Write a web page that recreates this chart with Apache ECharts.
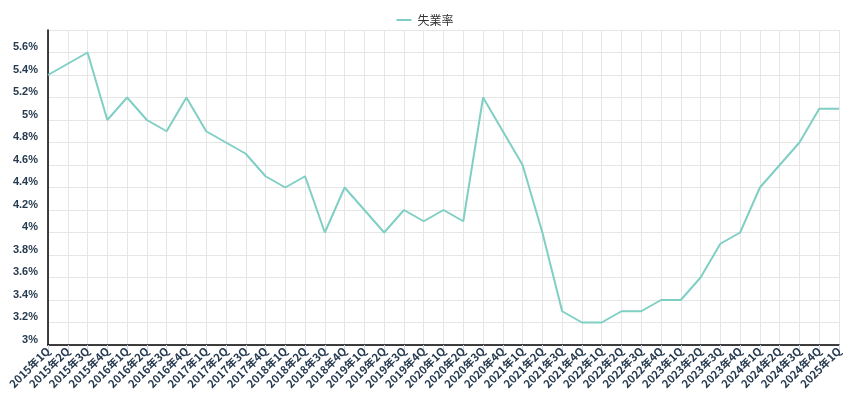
<!DOCTYPE html>
<html><head><meta charset="utf-8">
<script src="https://cdn.jsdelivr.net/npm/echarts@6/dist/echarts.min.js"></script>
<style>html,body{margin:0;padding:0;background:#fff}#c{width:850px;height:400px}</style>
</head><body><div id="c"></div>
<script>
const categories = ["2015年1Q","2015年2Q","2015年3Q","2015年4Q","2016年1Q","2016年2Q","2016年3Q","2016年4Q","2017年1Q","2017年2Q","2017年3Q","2017年4Q","2018年1Q","2018年2Q","2018年3Q","2018年4Q","2019年1Q","2019年2Q","2019年3Q","2019年4Q","2020年1Q","2020年2Q","2020年3Q","2020年4Q","2021年1Q","2021年2Q","2021年3Q","2021年4Q","2022年1Q","2022年2Q","2022年3Q","2022年4Q","2023年1Q","2023年2Q","2023年3Q","2023年4Q","2024年1Q","2024年2Q","2024年3Q","2024年4Q","2025年1Q"];
const unemploymentRate = [5.4,5.5,5.6,5.0,5.2,5.0,4.9,5.2,4.9,4.8,4.7,4.5,4.4,4.5,4.0,4.4,4.2,4.0,4.2,4.1,4.2,4.1,5.2,4.9,4.6,4.0,3.3,3.2,3.2,3.3,3.3,3.4,3.4,3.6,3.9,4.0,4.4,4.6,4.8,5.1,5.1];
const seriesName = "失業率";

const chart = echarts.init(document.getElementById('c'));
chart.setOption({
  animation: false,
  legend: {
    top: 9,
    left: 'center',
    data: [{ name: seriesName, icon: 'rect' }],
    itemWidth: 15, itemHeight: 2,
    itemGap: 6,
    textStyle: { color: '#333', fontSize: 12, fontFamily: 'Noto Sans CJK JP', padding: [0, 0, 0, 1] }
  },
  grid: { left: 48, right: 11, top: 30, bottom: 55 },
  xAxis: {
    type: 'category',
    data: categories,
    boundaryGap: false,
    axisLine: { lineStyle: { color: '#000', width: 1.5 } },
    axisTick: { show: true, length: 6, lineStyle: { color: '#ccd6eb' } },
    axisLabel: { rotate: 45, interval: 0, color: '#263a4f', fontWeight: 'bold', fontSize: 11, fontFamily: 'Noto Sans CJK JP', margin: 4 },
    splitLine: { show: true, lineStyle: { color: '#e6e6e6' } }
  },
  yAxis: {
    type: 'value',
    min: 3, max: 5.8, interval: 0.2,
    axisLine: { show: true, lineStyle: { color: '#000', width: 1.5 } },
    axisTick: { show: false },
    axisLabel: {
      color: '#263a4f', fontWeight: 'bold', fontSize: 11, fontFamily: 'Liberation Sans',
      verticalAlign: 'bottom', margin: 10, showMaxLabel: false,
      formatter: v => (Math.round(v * 10) / 10) + '%'
    },
    splitLine: { show: true, lineStyle: { color: '#e6e6e6' } }
  },
  series: [{
    name: seriesName,
    type: 'line',
    data: unemploymentRate,
    showSymbol: false,
    symbol: 'none',
    lineStyle: { color: '#80cfc4', width: 2 },
    itemStyle: { color: '#80cfc4' }
  }]
});
</script></body></html>
